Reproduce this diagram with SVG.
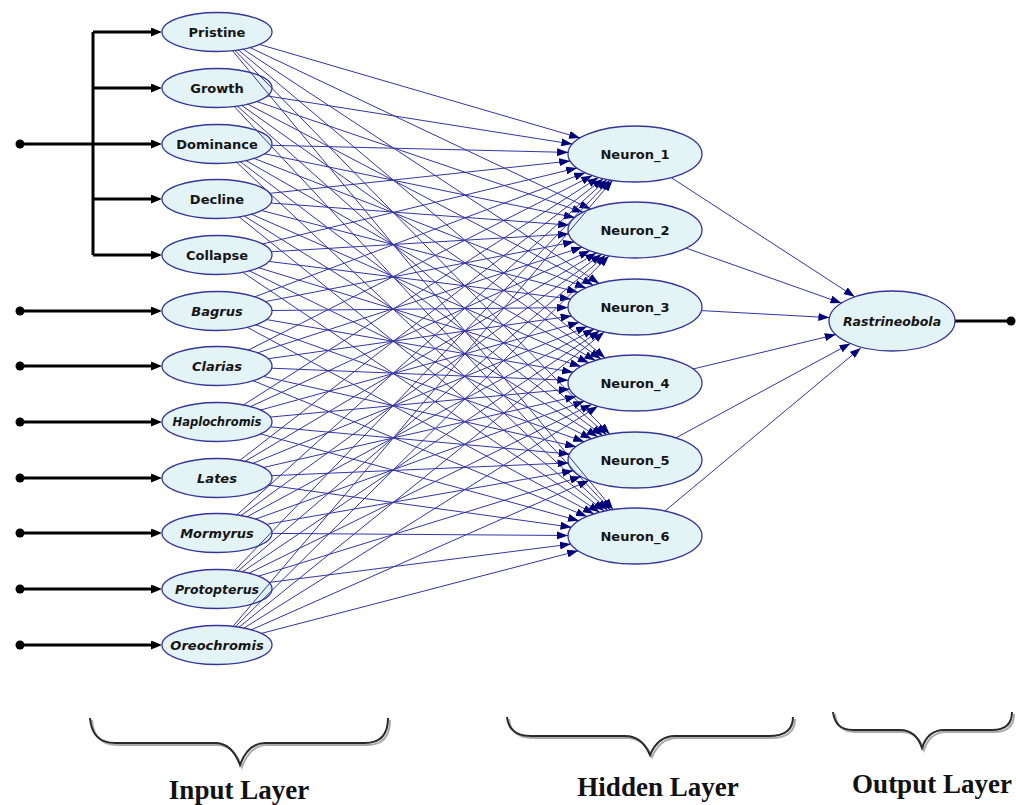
<svg xmlns="http://www.w3.org/2000/svg" width="1016" height="805" viewBox="0 0 1016 805">
<style>
.nd{fill:#e3f3f6;stroke:#35359a;stroke-width:1.3}
.lb{font-family:"DejaVu Sans",sans-serif;font-size:13px;font-weight:bold;fill:#151515;text-anchor:middle;dominant-baseline:central}
.it{font-style:italic}
.w{stroke:#3434a4;stroke-width:1;fill:none;marker-end:url(#na)}
.feed{stroke:#000;stroke-width:3;fill:none}
.fa{marker-end:url(#ba)}
.br{stroke:#2a2a2a;stroke-width:2;fill:none}
.brs{stroke:#aaa;stroke-width:2;fill:none}
.ttl{font-family:"Liberation Serif","Times New Roman",serif;font-size:27px;font-weight:bold;fill:#111;text-anchor:middle}
</style>
<defs>
<marker id="na" markerUnits="userSpaceOnUse" markerWidth="11" markerHeight="8" viewBox="0 0 11 8" refX="11" refY="4" orient="auto"><path d="M0,0 L11,4 L0,8 z" fill="#00007a"/></marker>
<marker id="ba" markerUnits="userSpaceOnUse" markerWidth="11" markerHeight="9" viewBox="0 0 11 9" refX="0" refY="4.5" orient="auto"><path d="M0,0 L11,4.5 L0,9 z" fill="#000"/></marker>
</defs>
<rect width="1016" height="805" fill="#fff"/>

<g id="feeds">
<circle cx="20" cy="144" r="4.5"/>
<path class="feed" d="M20,144 H93"/>
<path class="feed" d="M93,32 V255"/>
<path class="feed fa" d="M93,32 H151"/>
<path class="feed fa" d="M93,88 H151"/>
<path class="feed fa" d="M93,144 H151"/>
<path class="feed fa" d="M93,199 H151"/>
<path class="feed fa" d="M93,255 H151"/>
<circle cx="20" cy="311" r="4.5"/><path class="feed fa" d="M20,311 H151"/>
<circle cx="20" cy="366" r="4.5"/><path class="feed fa" d="M20,366 H151"/>
<circle cx="20" cy="422" r="4.5"/><path class="feed fa" d="M20,422 H151"/>
<circle cx="20" cy="478" r="4.5"/><path class="feed fa" d="M20,478 H151"/>
<circle cx="20" cy="533" r="4.5"/><path class="feed fa" d="M20,533 H151"/>
<circle cx="20" cy="589" r="4.5"/><path class="feed fa" d="M20,589 H151"/>
<circle cx="20" cy="645" r="4.5"/><path class="feed fa" d="M20,645 H151"/>
<path class="feed" d="M955,321 H1011"/>
<circle cx="1011" cy="321" r="4.5"/>
</g>

<g id="n-pristine"><ellipse class="nd" cx="217" cy="32" rx="55" ry="19.5"/><text class="lb" x="217" y="32">Pristine</text></g>
<g id="n-growth"><ellipse class="nd" cx="217" cy="88" rx="55" ry="19.5"/><text class="lb" x="217" y="88">Growth</text></g>
<g id="n-dominance"><ellipse class="nd" cx="217" cy="144" rx="55" ry="19.5"/><text class="lb" x="217" y="144">Dominance</text></g>
<g id="n-decline"><ellipse class="nd" cx="217" cy="199" rx="55" ry="19.5"/><text class="lb" x="217" y="199">Decline</text></g>
<g id="n-collapse"><ellipse class="nd" cx="217" cy="255" rx="55" ry="19.5"/><text class="lb" x="217" y="255">Collapse</text></g>
<g id="n-bagrus"><ellipse class="nd" cx="217" cy="311" rx="55" ry="19.5"/><text class="lb it" x="217" y="311">Bagrus</text></g>
<g id="n-clarias"><ellipse class="nd" cx="217" cy="366" rx="55" ry="19.5"/><text class="lb it" x="217" y="366">Clarias</text></g>
<g id="n-haplochromis"><ellipse class="nd" cx="217" cy="422" rx="55" ry="19.5"/><text class="lb it" x="217" y="422" style="font-size:11.5px">Haplochromis</text></g>
<g id="n-lates"><ellipse class="nd" cx="217" cy="478" rx="55" ry="19.5"/><text class="lb it" x="217" y="478">Lates</text></g>
<g id="n-mormyrus"><ellipse class="nd" cx="217" cy="533" rx="55" ry="19.5"/><text class="lb it" x="217" y="533">Mormyrus</text></g>
<g id="n-protopterus"><ellipse class="nd" cx="217" cy="589" rx="55" ry="19.5"/><text class="lb it" x="217" y="589" style="font-size:12.5px">Protopterus</text></g>
<g id="n-oreochromis"><ellipse class="nd" cx="217" cy="645" rx="55" ry="19.5"/><text class="lb it" x="217" y="645">Oreochromis</text></g>

<g id="h-neuron1"><ellipse class="nd" cx="635" cy="154" rx="67" ry="28"/><text class="lb" x="635" y="154">Neuron_1</text></g>
<g id="h-neuron2"><ellipse class="nd" cx="635" cy="230" rx="67" ry="28"/><text class="lb" x="635" y="230">Neuron_2</text></g>
<g id="h-neuron3"><ellipse class="nd" cx="635" cy="307" rx="67" ry="28"/><text class="lb" x="635" y="307">Neuron_3</text></g>
<g id="h-neuron4"><ellipse class="nd" cx="635" cy="383" rx="67" ry="28"/><text class="lb" x="635" y="383">Neuron_4</text></g>
<g id="h-neuron5"><ellipse class="nd" cx="635" cy="460" rx="67" ry="28"/><text class="lb" x="635" y="460">Neuron_5</text></g>
<g id="h-neuron6"><ellipse class="nd" cx="635" cy="536" rx="67" ry="28"/><text class="lb" x="635" y="536">Neuron_6</text></g>

<g id="o-rastrineobola"><ellipse class="nd" cx="892" cy="321" rx="63" ry="30"/><text class="lb it" x="892" y="321" style="font-size:12.5px">Rastrineobola</text></g>

<g id="connectors">
<line class="w" x1="259.0" y1="44.3" x2="580.1" y2="138.0"/>
<line class="w" x1="249.4" y1="47.3" x2="590.6" y2="209.0"/>
<line class="w" x1="242.6" y1="48.8" x2="599.1" y2="283.4"/>
<line class="w" x1="238.0" y1="49.6" x2="605.1" y2="357.9"/>
<line class="w" x1="234.6" y1="50.0" x2="609.7" y2="434.1"/>
<line class="w" x1="232.2" y1="50.3" x2="613.1" y2="509.5"/>
<line class="w" x1="267.0" y1="95.9" x2="572.4" y2="144.1"/>
<line class="w" x1="256.2" y1="101.3" x2="583.0" y2="212.3"/>
<line class="w" x1="247.3" y1="103.9" x2="593.2" y2="285.1"/>
<line class="w" x1="241.2" y1="105.1" x2="600.9" y2="358.9"/>
<line class="w" x1="236.9" y1="105.7" x2="606.5" y2="434.6"/>
<line class="w" x1="233.9" y1="106.1" x2="610.7" y2="509.9"/>
<line class="w" x1="271.9" y1="145.3" x2="568.1" y2="152.4"/>
<line class="w" x1="264.2" y1="153.7" x2="574.9" y2="217.6"/>
<line class="w" x1="253.5" y1="158.2" x2="586.0" y2="287.9"/>
<line class="w" x1="245.5" y1="160.3" x2="595.4" y2="360.4"/>
<line class="w" x1="239.9" y1="161.3" x2="602.6" y2="435.5"/>
<line class="w" x1="236.1" y1="161.8" x2="607.7" y2="510.4"/>
<line class="w" x1="269.4" y1="193.4" x2="570.2" y2="161.0"/>
<line class="w" x1="270.7" y1="203.0" x2="569.2" y2="225.1"/>
<line class="w" x1="261.1" y1="210.4" x2="578.0" y2="292.3"/>
<line class="w" x1="251.0" y1="214.0" x2="588.9" y2="362.7"/>
<line class="w" x1="243.7" y1="215.7" x2="597.7" y2="436.7"/>
<line class="w" x1="238.7" y1="216.5" x2="604.2" y2="511.1"/>
<line class="w" x1="262.1" y1="244.1" x2="577.0" y2="168.0"/>
<line class="w" x1="271.2" y1="251.8" x2="568.7" y2="234.0"/>
<line class="w" x1="268.7" y1="261.4" x2="570.8" y2="299.0"/>
<line class="w" x1="258.2" y1="267.6" x2="580.9" y2="366.4"/>
<line class="w" x1="248.7" y1="270.5" x2="591.5" y2="438.7"/>
<line class="w" x1="242.2" y1="271.9" x2="599.6" y2="512.2"/>
<line class="w" x1="254.2" y1="297.0" x2="585.2" y2="172.7"/>
<line class="w" x1="264.9" y1="301.7" x2="574.2" y2="241.8"/>
<line class="w" x1="272.0" y1="310.5" x2="568.0" y2="307.6"/>
<line class="w" x1="266.2" y1="319.5" x2="573.1" y2="372.3"/>
<line class="w" x1="255.2" y1="324.6" x2="584.1" y2="441.8"/>
<line class="w" x1="246.7" y1="327.0" x2="593.9" y2="513.9"/>
<line class="w" x1="248.0" y1="350.3" x2="592.3" y2="175.6"/>
<line class="w" x1="257.1" y1="353.0" x2="582.1" y2="247.2"/>
<line class="w" x1="267.8" y1="358.8" x2="571.6" y2="316.0"/>
<line class="w" x1="271.6" y1="368.2" x2="568.4" y2="380.3"/>
<line class="w" x1="263.1" y1="376.4" x2="576.1" y2="446.7"/>
<line class="w" x1="252.6" y1="380.5" x2="587.0" y2="516.5"/>
<line class="w" x1="243.1" y1="405.2" x2="598.4" y2="177.5"/>
<line class="w" x1="250.1" y1="406.8" x2="589.9" y2="250.7"/>
<line class="w" x1="260.0" y1="410.2" x2="579.1" y2="322.4"/>
<line class="w" x1="270.0" y1="417.1" x2="569.8" y2="389.1"/>
<line class="w" x1="270.1" y1="426.8" x2="569.7" y2="454.1"/>
<line class="w" x1="260.2" y1="433.8" x2="578.9" y2="520.7"/>
<line class="w" x1="239.4" y1="460.7" x2="603.2" y2="178.7"/>
<line class="w" x1="244.7" y1="461.6" x2="596.4" y2="252.9"/>
<line class="w" x1="252.5" y1="463.5" x2="587.1" y2="326.6"/>
<line class="w" x1="262.9" y1="467.6" x2="576.2" y2="396.4"/>
<line class="w" x1="271.6" y1="475.7" x2="568.5" y2="462.9"/>
<line class="w" x1="268.0" y1="485.1" x2="571.5" y2="527.2"/>
<line class="w" x1="236.6" y1="515.2" x2="606.9" y2="179.4"/>
<line class="w" x1="240.7" y1="515.8" x2="601.5" y2="254.3"/>
<line class="w" x1="246.6" y1="517.0" x2="594.0" y2="329.1"/>
<line class="w" x1="255.1" y1="519.3" x2="584.2" y2="401.2"/>
<line class="w" x1="266.1" y1="524.4" x2="573.2" y2="470.8"/>
<line class="w" x1="272.0" y1="533.4" x2="568.0" y2="535.5"/>
<line class="w" x1="234.3" y1="570.9" x2="610.0" y2="180.0"/>
<line class="w" x1="237.6" y1="571.3" x2="605.7" y2="255.2"/>
<line class="w" x1="242.1" y1="572.1" x2="599.7" y2="330.8"/>
<line class="w" x1="248.6" y1="573.4" x2="591.6" y2="404.4"/>
<line class="w" x1="258.0" y1="576.3" x2="581.1" y2="476.6"/>
<line class="w" x1="268.6" y1="582.5" x2="570.9" y2="544.1"/>
<line class="w" x1="232.6" y1="626.8" x2="612.5" y2="180.4"/>
<line class="w" x1="235.1" y1="627.0" x2="609.0" y2="255.8"/>
<line class="w" x1="238.6" y1="627.5" x2="604.2" y2="331.9"/>
<line class="w" x1="243.6" y1="628.3" x2="597.8" y2="406.3"/>
<line class="w" x1="250.9" y1="630.0" x2="589.0" y2="480.4"/>
<line class="w" x1="261.0" y1="633.5" x2="578.2" y2="550.8"/>
<line class="w" x1="671.2" y1="177.6" x2="854.8" y2="296.8"/>
<line class="w" x1="686.1" y1="248.1" x2="841.4" y2="303.1"/>
<line class="w" x1="701.4" y1="310.6" x2="829.4" y2="317.6"/>
<line class="w" x1="693.0" y1="369.0" x2="835.8" y2="334.6"/>
<line class="w" x1="676.0" y1="437.8" x2="850.4" y2="343.5"/>
<line class="w" x1="664.9" y1="511.0" x2="860.8" y2="347.9"/>
</g>

<g id="braces">
<path class="brs" d="M92,720 Q94,745 117,745 L217,745 Q234,745 242,767 Q250,745 267,745 L367,745 Q390,745 390,720"/>
<path class="br" d="M90,718 Q92,743 115,743 L215,743 Q232,743 240,765 Q248,743 265,743 L365,743 Q388,743 388,718"/>
<path class="brs" d="M509,719 Q511,738 533,738 L627,738 Q644,738 652,757 Q660,738 677,738 L771,738 Q795,738 795,719"/>
<path class="br" d="M507,717 Q509,736 531,736 L625,736 Q642,736 650,755 Q658,736 675,736 L769,736 Q793,736 793,717"/>
<path class="brs" d="M835,714 Q837,732 855,732 L902,732 Q918,732 924,750 Q930,732 946,732 L994,732 Q1014,732 1014,714"/>
<path class="br" d="M833,712 Q835,730 853,730 L900,730 Q916,730 922,748 Q928,730 944,730 L992,730 Q1012,730 1012,712"/>
</g>

<g id="titles">
<text class="ttl" x="239" y="799">Input Layer</text>
<text class="ttl" x="658" y="796">Hidden Layer</text>
<text class="ttl" x="932" y="793">Output Layer</text>
</g>
</svg>
